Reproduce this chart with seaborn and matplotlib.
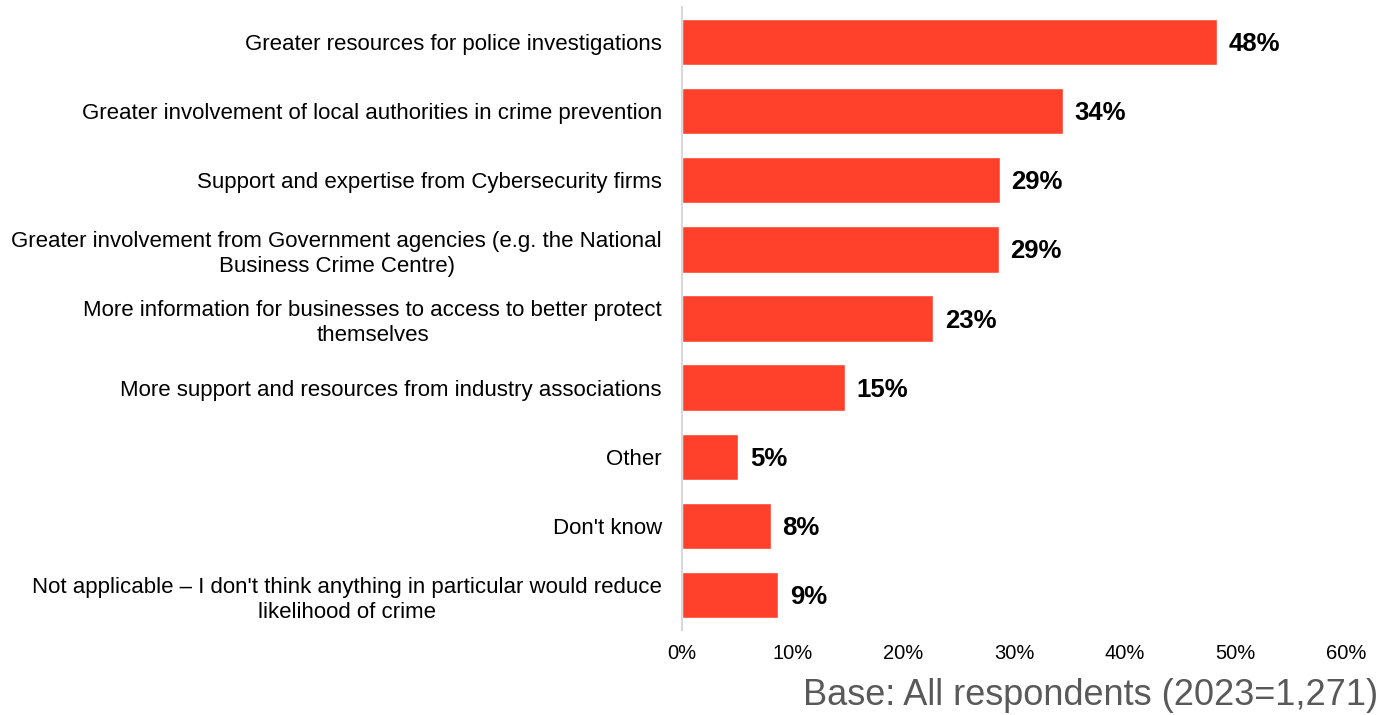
import matplotlib
matplotlib.use("Agg")
import matplotlib.pyplot as plt
import seaborn as sns
import pandas as pd

categories = [
    "Greater resources for police investigations",
    "Greater involvement of local authorities in crime prevention",
    "Support and expertise from Cybersecurity firms",
    "Greater involvement from Government agencies (e.g. the National\nBusiness Crime Centre)",
    "More information for businesses to access to better protect\nthemselves",
    "More support and resources from industry associations",
    "Other",
    "Don't know",
    "Not applicable \u2013 I don't think anything in particular would reduce\nlikelihood of crime",
]
shares = [48.3, 34.4, 28.7, 28.6, 22.7, 14.7, 5.1, 8.0, 8.7]
x_ticks = [0, 10, 20, 30, 40, 50, 60]
base_note = "Base: All respondents (2023=1,271)"

sns.set_theme(style="white")
plt.rcParams["font.family"] = ["Liberation Sans", "DejaVu Sans"]

df = pd.DataFrame({"category": categories, "share": shares})

fig = plt.figure(figsize=(13.8, 7.15), dpi=100)
ax = fig.add_axes([0.4942, 0.1194, 0.9754 - 0.4942, 0.9897 - 0.1194])

sns.barplot(data=df, x="share", y="category", color="#FF412C",
            saturation=1, width=0.67, ax=ax)

ax.set_xlim(0, 60)
ax.set_ylim(len(categories) - 0.5, -0.5)
ax.set_xticks(x_ticks)
ax.set_xticklabels([f"{t}%" for t in x_ticks], fontsize=14.5, color="#000000")
ax.set_xlabel("")
ax.set_ylabel("")

for lbl in ax.get_yticklabels():
    lbl.set_multialignment("center")
    lbl.set_fontsize(16)
    lbl.set_linespacing(1.25)
    lbl.set_color("#000000")

ax.tick_params(axis="y", length=0, pad=14.5)
ax.tick_params(axis="x", length=0, pad=10)

for side in ["top", "right", "bottom"]:
    ax.spines[side].set_visible(False)
ax.spines["left"].set_color("#D9D9D9")
ax.spines["left"].set_linewidth(1.5)

for i, v in enumerate(shares):
    ax.text(v + 1.05, i + 0.03, f"{round(v)}%", va="center", ha="left",
            fontsize=18.5, fontweight="bold", color="#000000")

fig.text(0.9985, 0.027, base_note, ha="right", va="center",
         fontsize=26, color="#595959")

fig.savefig("out.png", dpi=100)
